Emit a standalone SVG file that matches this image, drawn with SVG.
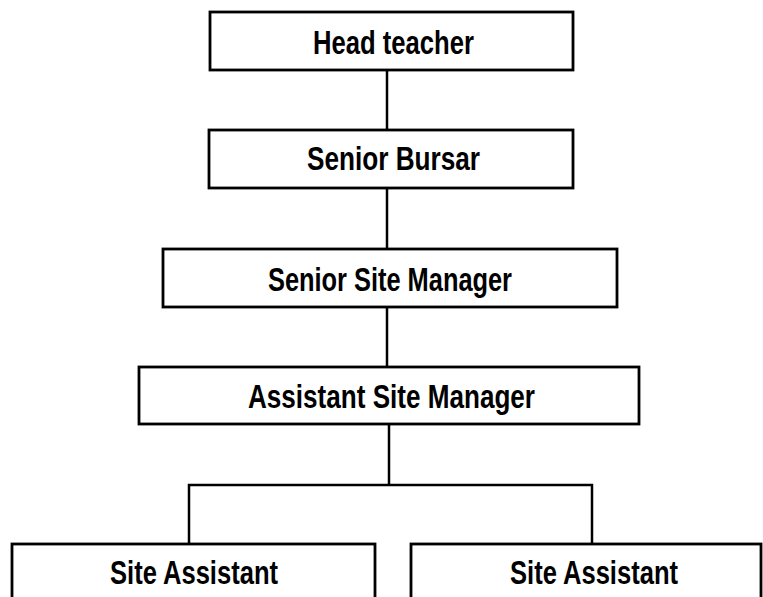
<svg xmlns="http://www.w3.org/2000/svg" width="763" height="597" viewBox="0 0 763 597">
<style>
.box{fill:#fff;stroke:#000;stroke-width:2.8}
.lbl{font-family:"Liberation Sans",Arial,sans-serif;font-weight:bold;font-size:33px;fill:#000}
.con{fill:none;stroke:#000;stroke-width:2.5}
</style>
<rect width="763" height="597" fill="#fff"/>
<g id="connectors">
<line class="con" x1="387" y1="70" x2="387" y2="130"/>
<line class="con" x1="387" y1="188" x2="387" y2="249"/>
<line class="con" x1="387" y1="307" x2="387" y2="367"/>
<line class="con" x1="389" y1="424" x2="389" y2="485"/>
<polyline class="con" points="189,544 189,485 592,485 592,544"/>
</g>
<g id="head-teacher">
<rect class="box" x="210" y="12" width="363" height="58"/>
<text class="lbl" x="313" y="54" textLength="161" lengthAdjust="spacingAndGlyphs">Head teacher</text>
</g>
<g id="senior-bursar">
<rect class="box" x="209" y="130" width="364" height="58"/>
<text class="lbl" x="307" y="170" textLength="173" lengthAdjust="spacingAndGlyphs">Senior Bursar</text>
</g>
<g id="senior-site-manager">
<rect class="box" x="163" y="249" width="454" height="58"/>
<text class="lbl" x="268" y="291" textLength="244" lengthAdjust="spacingAndGlyphs">Senior Site Manager</text>
</g>
<g id="assistant-site-manager">
<rect class="box" x="139" y="367" width="500" height="57"/>
<text class="lbl" x="248" y="408" textLength="287" lengthAdjust="spacingAndGlyphs">Assistant Site Manager</text>
</g>
<g id="site-assistant-1">
<rect class="box" x="12" y="544" width="363" height="70"/>
<text class="lbl" x="110" y="584" textLength="168" lengthAdjust="spacingAndGlyphs">Site Assistant</text>
</g>
<g id="site-assistant-2">
<rect class="box" x="411" y="544" width="350" height="70"/>
<text class="lbl" x="510" y="584" textLength="168" lengthAdjust="spacingAndGlyphs">Site Assistant</text>
</g>
</svg>
